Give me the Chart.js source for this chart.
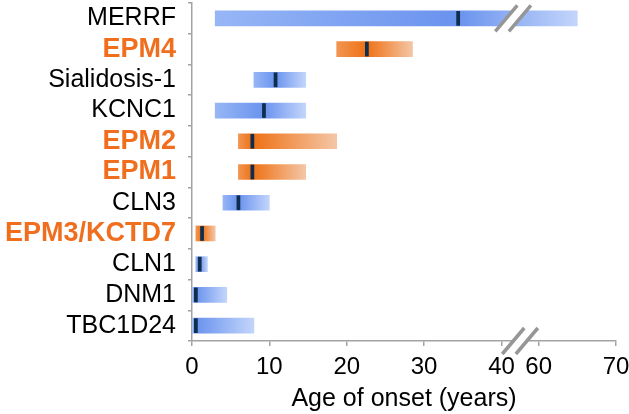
<!DOCTYPE html>
<html>
<head>
<meta charset="utf-8">
<script src="https://cdn.jsdelivr.net/npm/chart.js@4"></script>
<style>
  html, body { margin: 0; padding: 0; background: #fff; }
  #wrap { width: 629px; height: 414px; }
</style>
</head>
<body>
<div id="wrap"><canvas id="onsetChart"></canvas></div>
<script>
// datos (edad de inicio en años)
var genes = ["MERRF", "EPM4", "Sialidosis-1", "KCNC1", "EPM2", "EPM1", "CLN3", "EPM3/KCTD7", "CLN1", "DNM1", "TBC1D24"];
var onsetMin = [3, 18.7, 8, 3, 6, 6, 4, 0.5, 0.5, 0, 0];
var onsetMax = [65, 28.5, 14.7, 14.7, 18.7, 14.7, 10, 3, 2, 4.5, 8];
var onsetMedian = [34.4, 22.6, 10.8, 9.3, 7.8, 7.8, 6, 1.3, 1, 0.5, 0.5];
var isEPM = [false, true, false, false, true, true, false, true, false, false, false];
var xTickLabels = [0, 10, 20, 30, 40, 60, 70];

// eje cortado entre 40 y 60
var GAP = 15.2;
function brk(v) {
  return v > 40 ? v - GAP : v;
}

var BLUE = ["#97b6f6", "#6a93ee", "#c3d5fb"];
var ORANGE = ["#f29552", "#ee7114", "#f4c6a6"];
var GREY = "#a3a3a3";
var FONT = "'Liberation Sans', Arial, sans-serif";

function barFill(ctx) {
  var i = ctx.dataIndex;
  var pal = isEPM[i] ? ORANGE : BLUE;
  var chart = ctx.chart;
  var sx = chart.scales.x;
  if (!sx || ctx.type !== "data") return pal[1];
  var x0 = sx.getPixelForValue(brk(onsetMin[i]));
  var x1 = sx.getPixelForValue(brk(onsetMax[i]));
  var xm = sx.getPixelForValue(brk(onsetMedian[i]));
  if (!isFinite(x0) || !isFinite(x1) || x1 - x0 < 1) return pal[1];
  var g = chart.ctx.createLinearGradient(x0, 0, x1, 0);
  var p = Math.min(0.95, Math.max(0.05, (xm - x0) / (x1 - x0)));
  g.addColorStop(0, pal[0]);
  g.addColorStop(p, pal[1]);
  g.addColorStop(1, pal[2]);
  return g;
}

// marcas de corte "//"
var breakMarks = {
  id: "breakMarks",
  afterDraw: function (chart) {
    var c = chart.ctx;
    var sx = chart.scales.x, sy = chart.scales.y;
    var pts = [
      [sx.getPixelForValue(41.5), sy.getPixelForValue(0)],
      [sx.getPixelForValue(42.4), chart.chartArea.bottom]
    ];
    pts.forEach(function (p) {
      var cx = p[0], cy = p[1];
      var dx = 11, dy = 13, off = 6.8;
      c.save();
      c.fillStyle = "#fff";
      c.beginPath();
      c.moveTo(cx - off - dx, cy + dy);
      c.lineTo(cx - off + dx, cy - dy);
      c.lineTo(cx + off + dx, cy - dy);
      c.lineTo(cx + off - dx, cy + dy);
      c.closePath();
      c.fill();
      c.strokeStyle = "#969696";
      c.lineWidth = 3.5;
      c.lineCap = "butt";
      [-off, off].forEach(function (o) {
        c.beginPath();
        c.moveTo(cx + o - dx, cy + dy);
        c.lineTo(cx + o + dx, cy - dy);
        c.stroke();
      });
      c.restore();
    });
  }
};

var markerData = onsetMedian.map(function (m) { return [brk(m) - 0.2, brk(m) + 0.2]; });
var rangeData = onsetMin.map(function (v, i) { return [brk(v), brk(onsetMax[i])]; });

new Chart(document.getElementById("onsetChart"), {
  type: "bar",
  data: {
    labels: genes,
    datasets: [
      {
        label: "Mediana",
        data: markerData,
        backgroundColor: "#0f2d4c",
        barThickness: 14,
        grouped: false,
        order: 0
      },
      {
        label: "Rango",
        data: rangeData,
        backgroundColor: barFill,
        barThickness: 15,
        grouped: false,
        order: 1
      }
    ]
  },
  options: {
    indexAxis: "y",
    responsive: true,
    maintainAspectRatio: false,
    animation: false,
    layout: { padding: { top: 3, right: 13, bottom: 0, left: 0 } },
    plugins: {
      legend: { display: false },
      tooltip: { enabled: false }
    },
    scales: {
      x: {
        type: "linear",
        min: 0,
        max: brk(70),
        afterBuildTicks: function (scale) {
          scale.ticks = xTickLabels.map(function (v) { return { value: brk(v) }; });
        },
        afterFit: function (scale) {
          scale.height = 73;
          scale.paddingLeft = 0;
          scale.paddingRight = 0;
        },
        ticks: {
          autoSkip: false,
          maxRotation: 0,
          padding: 7,
          color: "#000",
          font: { family: FONT, size: 24 },
          callback: function (value, index) { return String(xTickLabels[index]); }
        },
        grid: { drawOnChartArea: false, tickLength: 5, color: GREY, lineWidth: 1.5 },
        border: { color: GREY, width: 1.5 },
        title: {
          display: true,
          text: "Age of onset (years)",
          color: "#000",
          font: { family: FONT, size: 25 },
          padding: { top: 0, bottom: 0 }
        }
      },
      y: {
        afterFit: function (scale) {
          scale.width = 192;
          scale.paddingTop = 0;
          scale.paddingBottom = 0;
        },
        ticks: {
          autoSkip: false,
          padding: 12,
          color: function (ctx) { return isEPM[ctx.index] ? "#f06f1f" : "#000"; },
          font: function (ctx) {
            return isEPM[ctx.index]
              ? { family: FONT, size: 27, weight: "bold" }
              : { family: FONT, size: 25 };
          }
        },
        grid: { drawOnChartArea: false, tickLength: 4, color: GREY, lineWidth: 1.5, offset: true },
        border: { color: GREY, width: 1.5 }
      }
    }
  },
  plugins: [breakMarks]
});
</script>
</body>
</html>
